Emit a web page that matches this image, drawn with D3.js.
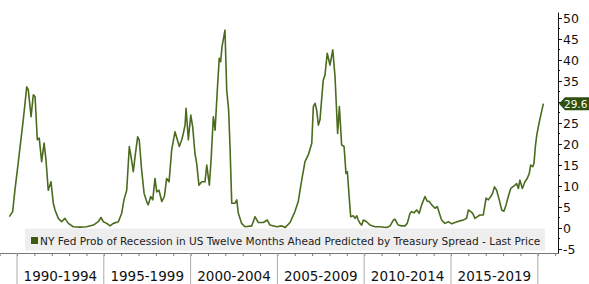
<!DOCTYPE html>
<html><head><meta charset="utf-8">
<script src="https://cdn.jsdelivr.net/npm/d3@7"></script>
<style>body{margin:0;background:#fff}svg{display:block}</style>
</head><body>
<svg id="c" width="589" height="284"></svg>
<script>
// decimal-year dates and probability values (%)
const dates = [1989.56,1989.75,1989.88,1990.07,1990.27,1990.36,1990.56,1990.65,1990.81,1990.94,1991.04,1991.17,1991.28,1991.42,1991.56,1991.67,1991.80,1991.96,1992.09,1992.19,1992.38,1992.57,1992.76,1992.96,1993.24,1993.63,1994.01,1994.40,1994.68,1994.84,1994.97,1995.17,1995.36,1995.55,1995.84,1996.03,1996.16,1996.32,1996.47,1996.57,1996.70,1996.80,1996.95,1997.04,1997.18,1997.32,1997.47,1997.56,1997.70,1997.82,1997.95,1998.05,1998.18,1998.34,1998.49,1998.62,1998.76,1998.91,1999.10,1999.35,1999.49,1999.58,1999.68,1999.74,1999.87,2000.01,2000.12,2000.25,2000.35,2000.48,2000.64,2000.83,2000.93,2001.08,2001.18,2001.31,2001.41,2001.54,2001.65,2001.73,2001.81,2001.98,2002.08,2002.19,2002.27,2002.37,2002.56,2002.66,2002.75,2002.94,2003.13,2003.52,2003.71,2003.90,2004.19,2004.42,2004.57,2004.96,2005.25,2005.44,2005.73,2006.01,2006.20,2006.40,2006.59,2006.78,2006.98,2007.07,2007.17,2007.26,2007.36,2007.45,2007.64,2007.74,2007.87,2008.03,2008.19,2008.32,2008.47,2008.57,2008.70,2008.84,2008.95,2009.03,2009.14,2009.22,2009.37,2009.47,2009.57,2009.66,2009.76,2009.86,2009.95,2010.14,2010.33,2010.62,2010.91,2011.30,2011.49,2011.68,2011.77,2011.96,2012.16,2012.35,2012.48,2012.64,2012.74,2012.87,2013.02,2013.17,2013.31,2013.50,2013.63,2013.75,2013.89,2014.08,2014.21,2014.33,2014.46,2014.65,2014.85,2015.04,2015.23,2015.52,2015.71,2015.90,2016.00,2016.14,2016.25,2016.38,2016.52,2016.67,2016.86,2017.02,2017.15,2017.29,2017.40,2017.50,2017.63,2017.78,2017.92,2018.05,2018.17,2018.30,2018.44,2018.55,2018.69,2018.78,2018.88,2018.97,2019.11,2019.26,2019.39,2019.51,2019.59,2019.71,2019.78,2019.86,2019.94,2020.03,2020.13,2020.22,2020.32];
const values = [2.7,3.9,9.0,15.5,22.6,25.7,33.6,32.9,26.5,31.7,31.3,21.0,21.4,15.8,20.2,16.2,9.0,11.0,5.9,4.3,2.3,1.5,2.3,1.1,0.3,0.2,0.3,0.7,1.5,2.5,1.5,1.1,0.5,1.1,1.5,3.5,6.7,9.0,19.4,17.0,13.4,17.0,21.7,21.0,13.8,8.3,6.3,5.5,7.5,6.7,11.8,8.6,9.0,6.3,7.5,11.8,11.0,18.6,22.9,19.4,21.0,22.5,24.5,28.5,21.0,26.9,24.1,17.8,15.4,10.2,11.0,11.0,15.0,10.2,16.2,26.5,23.3,32.9,40.4,39.6,43.2,47.1,32.9,28.1,19.4,5.9,5.9,6.7,3.5,1.1,0.3,0.5,2.7,1.3,1.3,1.9,0.7,0.3,0.5,0.1,1.3,3.9,6.3,11.4,15.8,17.4,20.2,28.9,29.7,28.1,24.5,25.7,35.2,36.4,41.6,38.8,42.4,36.0,22.5,28.9,19.8,19.4,13.0,13.4,7.1,2.7,2.9,2.3,2.9,1.9,1.1,0.7,1.9,1.5,0.7,0.3,0.3,0.1,0.5,1.9,2.1,0.7,0.5,0.5,1.1,3.5,3.9,3.6,4.3,3.5,5.5,7.5,6.4,6.3,5.5,4.7,5.1,3.5,1.9,1.1,1.5,1.0,1.3,1.7,1.9,2.3,4.3,3.9,3.5,2.3,2.7,3.1,3.1,7.1,6.7,7.5,8.3,9.8,9.0,6.7,4.3,4.0,5.5,7.5,9.4,9.8,10.2,10.6,9.4,11.4,9.4,11.0,11.8,13.0,15.0,14.6,15.4,19.4,22.1,24.1,26.1,27.7,29.6];
const lastPrice = "29.6";
const yTicks = [-5,0,5,10,15,20,25,30,35,40,45,50];
const yTickLabels = ["-5","0","5","10","15","20","25","","35","40","45","50"];
const periodStarts = [1990,1995,2000,2005,2010,2015];
const periodLabels = ["1990-1994","1995-1999","2000-2004","2005-2009","2010-2014","2015-2019"];
const legendText = "NY Fed Prob of Recession in US Twelve Months Ahead Predicted by Treasury Spread - Last Price";

const svg = d3.select("#c");
const lineColor = "#4b6b1e";
const x = d3.scaleLinear().domain([1990 - 17/17.36, 1990 + 541/17.36]).range([0, 558]);
const y = d3.scaleLinear().domain([-25/4.2, 216/4.2]).range([253, 12]);

// line
const line = d3.line().x((d,i)=>x(dates[i])).y(d=>y(d));
svg.append("path").datum(values).attr("d", line)
  .attr("fill","none").attr("stroke",lineColor).attr("stroke-width",1.6)
  .attr("stroke-linejoin","round");

// legend box
svg.append("rect").attr("x",25).attr("y",228.5).attr("width",520).attr("height",22).attr("fill","#eeeeee");
svg.append("rect").attr("x",31).attr("y",237).attr("width",7).attr("height",7).attr("fill","#3c5a12");
const lt = svg.append("text").attr("x",40).attr("y",244.5).attr("fill","#222")
  .style("font-family","DejaVu Sans, sans-serif").style("font-size","12px").text(legendText);
const ll = lt.node().getComputedTextLength();
lt.style("font-size", (12*501/ll).toFixed(2)+"px");

// x axis
const xAxis = d3.axisBottom(x).tickValues(d3.range(1989, 2022)).tickSize(3).tickSizeOuter(0).tickFormat("");
const gx = svg.append("g").attr("transform","translate(0,253)").call(xAxis);
gx.select(".domain").attr("stroke","#777");
gx.selectAll(".tick line").attr("stroke","#777");
// period separators
svg.append("g").selectAll("line").data(periodStarts.concat([2020])).join("line")
  .attr("x1",d=>x(d)).attr("x2",d=>x(d)).attr("y1",253).attr("y2",284)
  .attr("stroke","#aaa").attr("stroke-width",1);
svg.append("g").selectAll("text").data(periodStarts).join("text")
  .attr("x",d=>x(d+2.5)).attr("y",281).attr("text-anchor","middle")
  .attr("fill","#111").style("font-family","DejaVu Sans, sans-serif").style("font-size","13.5px")
  .text((d,i)=>periodLabels[i]);

// y axis (right)
const yAxis = d3.axisRight(y).tickValues(yTicks).tickSize(4).tickSizeOuter(0)
  .tickFormat((d,i)=>yTickLabels[i]);
const gy = svg.append("g").attr("transform","translate(558,0)").call(yAxis);
gy.select(".domain").attr("stroke","#111");
gy.selectAll(".tick line").attr("stroke","#111");
gy.selectAll(".tick text").attr("x",5).attr("fill","#111")
  .style("font-family","DejaVu Sans, sans-serif").style("font-size","12.5px");
// minor ticks
svg.append("g").selectAll("line").data(yTicks.slice(0,-1).map(d=>d+2.5)).join("line")
  .attr("x1",558).attr("x2",560).attr("y1",d=>y(d)).attr("y2",d=>y(d)).attr("stroke","#111");

// last price tag
const ly = y(values[values.length-1]);
svg.append("path").attr("d",`M559,${ly} L565,${ly-6.5} L589,${ly-6.5} L589,${ly+6.5} L565,${ly+6.5} Z`)
  .attr("fill","#2e4f0e");
svg.append("text").attr("x",564).attr("y",ly+4).attr("fill","#fff")
  .style("font-family","DejaVu Sans, sans-serif").style("font-size","10.5px").text(lastPrice);
</script>
</body></html>
